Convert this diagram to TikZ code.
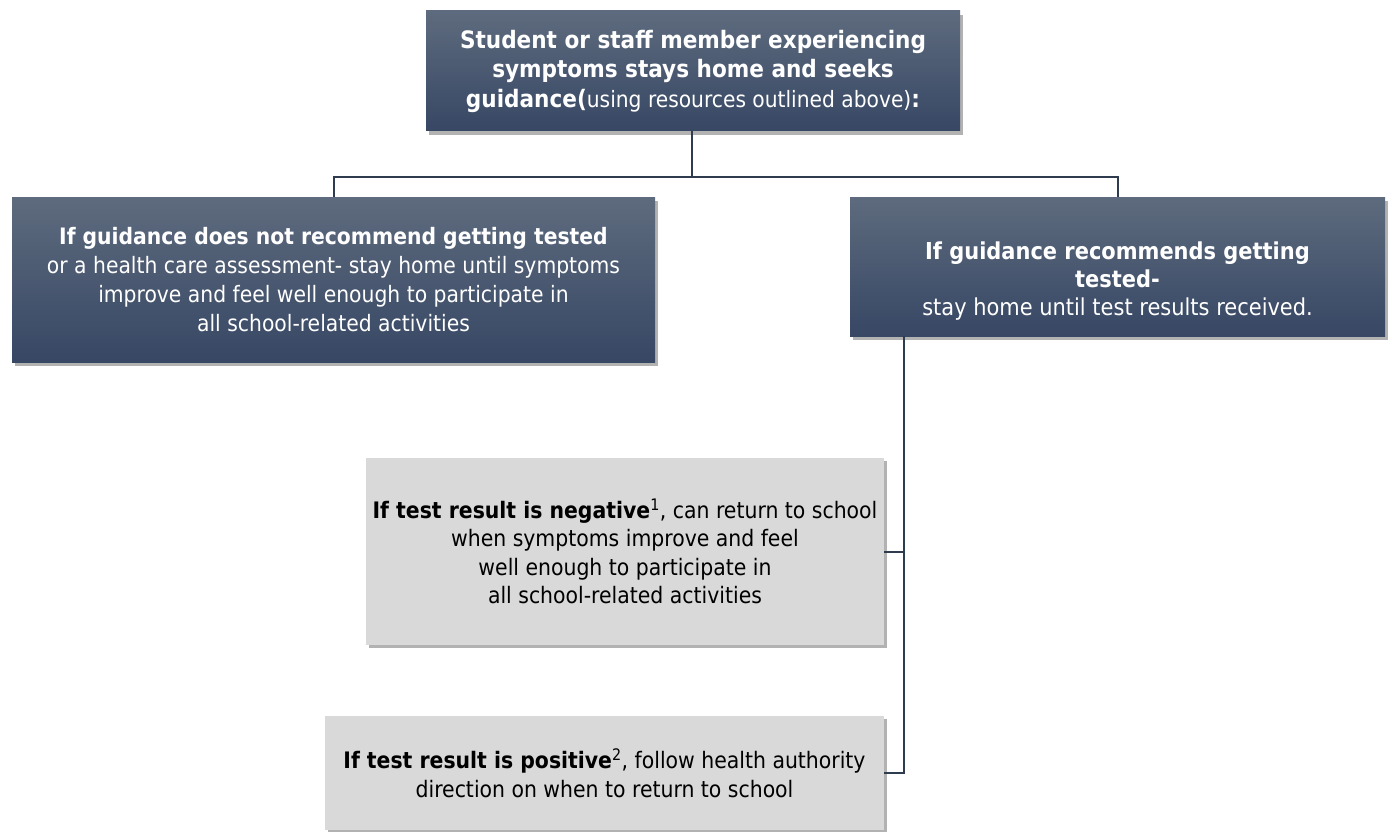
\documentclass[tikz,border=0pt]{standalone}
\usepackage{fontspec}
\setmainfont{DejaVu Sans Condensed}
\usetikzlibrary{shadows}
\definecolor{boxtop}{HTML}{5E6B7E}
\definecolor{boxbot}{HTML}{374764}
\definecolor{greybox}{HTML}{D9D9D9}
\definecolor{lineC}{HTML}{2F3B4F}
\tikzset{
  darkbox/.style={rectangle, top color=boxtop, bottom color=boxbot, text=white, align=center, inner sep=0pt,
    drop shadow={shadow xshift=3pt, shadow yshift=-4pt, opacity=0.3, fill=black}},
  greyboxS/.style={rectangle, fill=greybox, text=black, align=center, inner sep=0pt,
    drop shadow={shadow xshift=3pt, shadow yshift=-3pt, opacity=0.3, fill=black}},
  conn/.style={draw=lineC, line width=2pt}
}
\begin{document}
\begin{tikzpicture}[x=1pt,y=-1pt]
\useasboundingbox (0,0) rectangle (1389,832);
\node[darkbox, minimum width=534pt, minimum height=120pt, font=\fontsize{24}{29.5}\selectfont] (top) at (693,71)
  {\textbf{Student or staff member experiencing}\\ \textbf{symptoms stays home and seeks}\\ \textbf{guidance(}{\fontsize{22.5}{29.5}\selectfont using resources outlined above)}\textbf{:}};
\node[darkbox, minimum width=643pt, minimum height=165pt, font=\fontsize{22.6}{29}\selectfont] (left) at (333.5,279.5)
  {\textbf{If guidance does not recommend getting tested}\\ or a health care assessment- stay home until symptoms\\ improve and feel well enough to participate in\\ all school-related activities};
\node[darkbox, minimum width=535pt, minimum height=139pt, font=\fontsize{23.3}{28}\selectfont] (right) at (1117.5,266.5)
  {\rule{0pt}{46pt}\textbf{If guidance recommends getting}\\ \textbf{tested-}\\ stay home until test results received.};
\node[greyboxS, minimum width=518pt, minimum height=187pt, font=\fontsize{22.7}{28.5}\selectfont] (neg) at (625,551.5)
  {\textbf{If test result is negative}\textsuperscript{1}, can return to school\\ when symptoms improve and feel\\ well enough to participate in\\ all school-related activities};
\node[greyboxS, minimum width=559pt, minimum height=114pt, font=\fontsize{22.7}{29}\selectfont] (pos) at (604.5,773)
  {\textbf{If test result is positive}\textsuperscript{2}, follow health authority\\ direction on when to return to school};
\coordinate (j) at (692,177);
\coordinate (rs) at (904,336);
\draw[conn] (top.south -| j) -- (j);
\draw[conn] (j) -| (left.north);
\draw[conn] (j) -| (right.north);
\draw[conn] (rs) |- (pos.east);
\draw[conn] (rs |- neg.east) -- (neg.east);
\end{tikzpicture}
\end{document}
